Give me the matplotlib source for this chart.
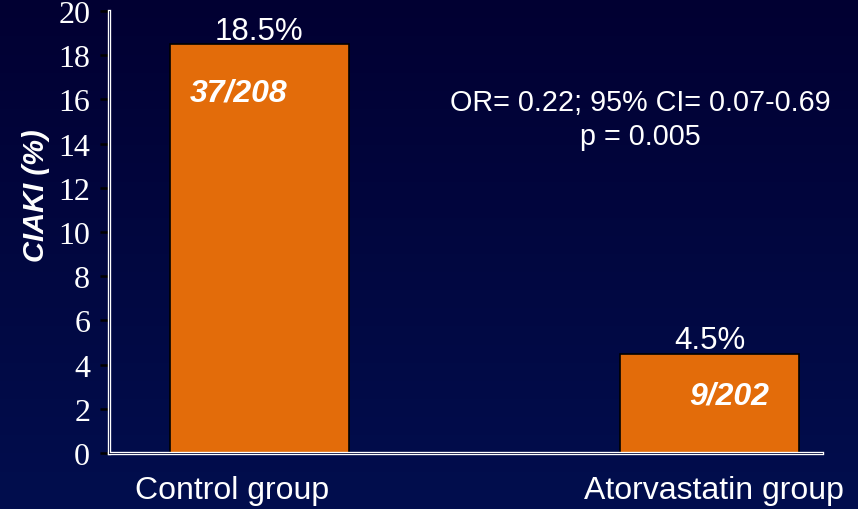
import numpy as np
import matplotlib
matplotlib.use("Agg")
import matplotlib.pyplot as plt
import matplotlib.transforms as mtransforms

# CIAKI incidence by group
groups = ["Control group", "Atorvastatin group"]
ciaki_pct = [18.5, 4.5]
pct_labels = ["18.5%", "4.5%"]
fractions = ["37/208", "9/202"]
yticks = list(range(0, 21, 2))
stats_text = "OR= 0.22; 95% CI= 0.07-0.69\np = 0.005"

bar_color = "#E36C0A"
sans = "Liberation Sans"
serif = "Liberation Serif"

fig = plt.figure(figsize=(8.58, 5.10), dpi=100)

# dark blue vertical gradient behind everything
bg = fig.add_axes([0, 0, 1, 1], zorder=-10)
top = np.array([2, 0, 50]) / 255
bottom = np.array([1, 14, 78]) / 255
t = np.linspace(0, 1, 256)[:, None]
grad = top[None, :] * (1 - t) + bottom[None, :] * t
bg.imshow(np.repeat(grad[:, None, :], 2, axis=1), aspect="auto", extent=[0, 1, 0, 1])
bg.axis("off")

ax = fig.add_axes([0.127, 0.1098, 0.831, 0.8666])
ax.set_facecolor("none")

x = np.arange(len(groups))
bars = ax.bar(x, ciaki_pct, width=0.397, color=bar_color, edgecolor="black", linewidth=1.2, zorder=2)

ax.set_xlim(-0.334, 1.249)
ax.set_ylim(0, 20)
ax.set_yticks(yticks)
ax.set_yticklabels([str(v) for v in yticks], fontfamily=serif, fontsize=23, color="white")
ax.tick_params(axis="y", direction="out", length=6.5, width=1.8, color="black", pad=7)
ax.tick_params(axis="x", length=0, pad=16)

ax.set_xticks(x)
ax.set_xticklabels(groups, fontfamily=sans, fontsize=23, color="white")
shifts = [-27, 4]
for lbl, dx in zip(ax.get_xticklabels(), shifts):
    lbl.set_transform(lbl.get_transform() + mtransforms.ScaledTranslation(dx / 100, 0, fig.dpi_scale_trans))

# double white axis lines
for side in ["top", "right"]:
    ax.spines[side].set_visible(False)
for side in ["left", "bottom"]:
    ax.spines[side].set_color("white")
    ax.spines[side].set_linewidth(2.4)
    ax.spines[side].set_zorder(3)
ax.plot([0, 0], [0, 1], transform=ax.transAxes, color="#020838", lw=0.6, clip_on=False, zorder=4)
ax.plot([0, 1], [0, 0], transform=ax.transAxes, color="#020838", lw=0.6, clip_on=False, zorder=4)

ax.set_ylabel("CIAKI (%)", fontfamily=sans, fontsize=21, fontweight="bold", fontstyle="italic", color="white")
ax.yaxis.set_label_coords(-0.083, 0.584)

# percentage above each bar, counts inside
frac_pos = [(-0.047, 16.3), (1.042, 2.6)]
for rect, lab in zip(bars, pct_labels):
    ax.annotate(lab, (rect.get_x() + rect.get_width() / 2, rect.get_height()),
                xytext=(0, 4), textcoords="offset points", ha="center", va="baseline",
                fontfamily=sans, fontsize=22.5, color="white")
for (fx, fy), lab in zip(frac_pos, fractions):
    ax.text(fx, fy, lab, ha="center", va="center", fontfamily=sans, fontsize=23,
            fontweight="bold", fontstyle="italic", color="white", zorder=5)

ax.text(0.745, 0.756, stats_text, transform=ax.transAxes, ha="center", va="center",
        multialignment="center", linespacing=1.25, fontfamily=sans, fontsize=20.7, color="white")

fig.savefig("out.png", dpi=100)
